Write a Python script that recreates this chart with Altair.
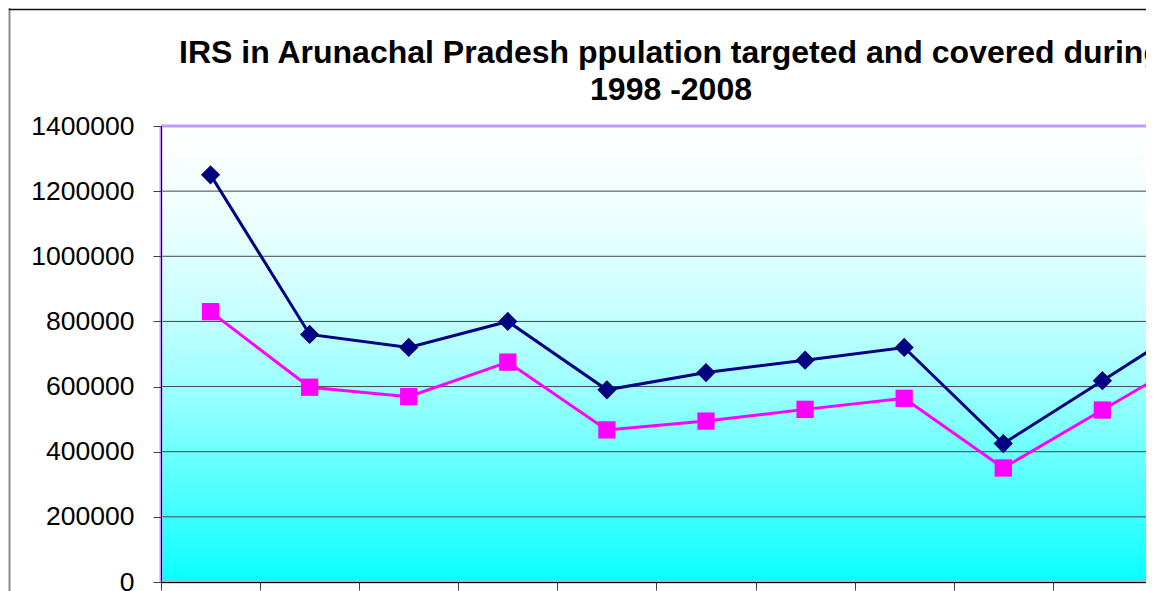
import altair as alt
import pandas as pd

years = ["1998", "1999", "2000", "2001", "2002", "2003", "2004", "2005", "2006", "2007", "2008"]
targeted = [1250000, 760000, 720000, 800000, 590000, 643000, 681000, 720000, 425000, 618000, 812000]
covered = [830000, 598000, 569000, 675000, 467000, 494000, 530000, 564000, 350000, 528000, 705000]
series_names = ["Population targeted", "Population covered"]
series_colors = ["#000080", "#FF00FF"]
series_shapes = ["diamond", "square"]
series_sizes = [370, 300]
y_ticks = [0, 200000, 400000, 600000, 800000, 1000000, 1200000, 1400000]

rows = []
for name, vals in zip(series_names, [targeted, covered]):
    for yr, v in zip(years, vals):
        rows.append({"year": yr, "series": name, "value": v})
df = pd.DataFrame(rows)

PLOT_W = 985
PLOT_H = 456
FONT = "Liberation Sans"

xscale = alt.Scale(type="band", domain=years, range=[0, 1090], paddingInner=0, paddingOuter=0)
yscale = alt.Scale(domain=[0, 1400000], nice=False, zero=True)

y_axis = alt.Axis(
    title=None, values=y_ticks, format="d", labelFontSize=26.5, labelFont=FONT,
    labelColor="#000000", labelPadding=19, labelFlush=False, tickSize=8,
    tickColor="#404040", domain=True, domainColor="#000000", domainWidth=1,
    grid=False, zindex=1,
)
x_axis = alt.Axis(
    title=None, labels=False, ticks=True, tickSize=8, tickBand="extent",
    tickColor="#404040", domain=True, domainColor="#000000", domainWidth=1,
    grid=False, zindex=1,
)

color = alt.Color("series:N", scale=alt.Scale(domain=series_names, range=series_colors), legend=None)
shape = alt.Shape("series:N", scale=alt.Scale(domain=series_names, range=series_shapes), legend=None)
size = alt.Size("series:N", scale=alt.Scale(domain=series_names, range=series_sizes), legend=None)

one = alt.Data(values=[{"a": 1}])

bg = alt.Chart(one).mark_rect(
    fill=alt.Gradient(
        gradient="linear",
        stops=[
            alt.GradientStop(color="#FFFFFF", offset=0),
            alt.GradientStop(color="#EEFFFF", offset=0.2),
            alt.GradientStop(color="#C9FFFF", offset=0.4),
            alt.GradientStop(color="#94FFFF", offset=0.6),
            alt.GradientStop(color="#51FFFF", offset=0.8),
            alt.GradientStop(color="#08FFFF", offset=1),
        ],
        x1=0, x2=0, y1=0, y2=1,
    ),
    stroke="transparent",
).encode(x=alt.value(0), x2=alt.value("width"), y=alt.value(0), y2=alt.value("height"))

grid = alt.Chart(pd.DataFrame({"v": y_ticks[1:]})).mark_rule(color="#454545", strokeWidth=1).encode(
    y=alt.Y("v:Q", scale=yscale, axis=y_axis)
)

border_top = alt.Chart(one).mark_rule(color="#C09AF7", strokeWidth=3).encode(
    x=alt.value(0), x2=alt.value(PLOT_W), y=alt.value(0)
)
border_left = alt.Chart(one).mark_rule(color="#C09AF7", strokeWidth=3).encode(
    x=alt.value(0), y=alt.value(0), y2=alt.value(PLOT_H)
)
border_bottom = alt.Chart(one).mark_rule(color="#C09AF7", strokeWidth=3).encode(
    x=alt.value(0), x2=alt.value(PLOT_W), y=alt.value(PLOT_H)
)

frame_left = alt.Chart(one).mark_rule(color="#8a8a8a", strokeWidth=2).encode(
    x=alt.value(-151.5), y=alt.value(-118), y2=alt.value(PLOT_H + 9)
)
frame_top = alt.Chart(one).mark_rule(color="#111111", strokeWidth=1.5).encode(
    x=alt.value(-152), x2=alt.value(PLOT_W), y=alt.value(-116.5)
)

x_enc = alt.X("year:O", scale=xscale, bandPosition=0.5, axis=x_axis)
y_enc = alt.Y("value:Q", scale=yscale, axis=y_axis)

lines = alt.Chart(df).mark_line(strokeWidth=3, clip=True).encode(
    x=x_enc, y=y_enc, color=color, detail="series:N"
)
points = alt.Chart(df).mark_point(filled=True, opacity=1, clip=True).encode(
    x=x_enc, y=y_enc, color=color, shape=shape, size=size
)

chart = alt.layer(
    bg, grid, border_top, border_left, border_bottom, frame_left, frame_top, lines, points
).properties(
    width=PLOT_W,
    height=PLOT_H,
    padding={"left": 153, "top": 118, "right": 0, "bottom": 9},
    autosize=alt.AutoSizeParams(type="none"),
    title=alt.TitleParams(
        text=["IRS in Arunachal Pradesh ppulation targeted and covered during", "1998 -2008"],
        font=FONT, fontSize=32, fontWeight="bold", color="#000000",
        anchor="middle", frame="group", dx=17.5, dy=104, lineHeight=37,
    ),
).configure_view(strokeWidth=0).configure(background="#FFFFFF")

chart.save("out.html", embed_options={"renderer": "svg", "actions": False})
